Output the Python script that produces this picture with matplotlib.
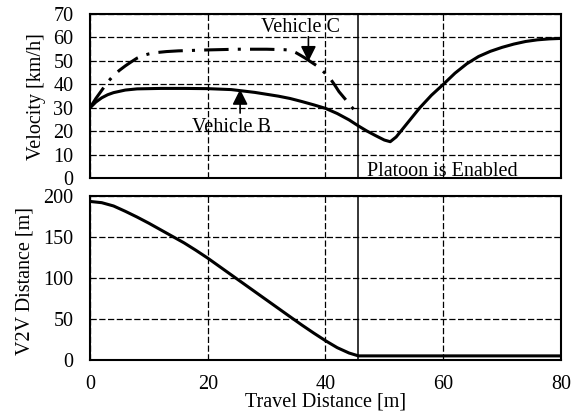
import numpy as np
import matplotlib
matplotlib.use('Agg')
import matplotlib.pyplot as plt

matplotlib.rcParams['font.family'] = 'Liberation Serif'
matplotlib.rcParams['font.size'] = 14.5

# vehicle B velocity [km/h] vs travel distance [m]
x_B = [0, 1, 2, 3, 4, 6, 8, 12, 16, 20, 24, 28, 32, 34, 36, 38, 40, 42, 44, 45.6,
       47, 48.5, 50, 51, 52, 54, 56, 58, 60, 62, 64, 66, 68, 70, 72, 74, 76, 78, 80]
v_B = [30, 32.5, 34.3, 35.6, 36.5, 37.6, 38.1, 38.3, 38.3, 38.2, 37.8, 36.6, 35.0, 34.0, 32.7, 31.3, 29.8, 27.6, 24.9, 22.3,
       20.2, 18.2, 16.3, 15.6, 17.6, 23.8, 30.0, 35.4, 40.0, 44.8, 48.8, 51.9, 54.1, 55.8, 57.2, 58.3, 59.0, 59.4, 59.6]

# vehicle C velocity [km/h]
x_C = [0, 1, 2, 3, 4, 5, 6, 7, 8, 9, 10, 11, 13, 15, 20, 25, 30, 33, 34, 35, 35.7,
       36.5, 37.1, 38.5, 39.5, 40.6, 41.5, 42.3, 43.4, 44.4, 45.3]
v_C = [30, 34, 37.5, 41, 43.8, 46, 47.9, 49.6, 51.2, 52.3, 53, 53.5, 54, 54.3, 54.7, 55, 55, 54.8, 54.6, 53.5, 52.5,
       51.3, 50.3, 48, 45.8, 43.2, 40, 36.9, 33.6, 30.5, 27.9]

# V2V distance [m]
x_d = [0, 2, 4, 6, 8, 10, 12, 14, 16, 18, 20, 22, 24, 26, 28, 30, 32, 34, 36, 38, 40, 42, 44, 45.6, 80]
d_v2v = [193, 191.5, 187.5, 181, 174, 166.5, 158.5, 150.5, 142.5, 133.5, 124, 113.8, 103.6, 93.4, 83.2, 73,
         62.8, 52.6, 42.5, 32.8, 23.5, 15, 8.5, 5, 5]

x_platoon = 45.6

fig = plt.figure(figsize=(5.79, 4.17), dpi=100, facecolor='w')
ax1 = fig.add_axes([0.1554, 0.5724, 0.8135, 0.394])
ax2 = fig.add_axes([0.1554, 0.1367, 0.8135, 0.394])

grid_kw = dict(color='k', linestyle=(0, (5, 2)), linewidth=0.9)

for ax in (ax1, ax2):
    ax.set_xlim(0, 80)
    ax.set_xticks(np.arange(0, 81, 20))
    ax.grid(True, **grid_kw)
    ax.tick_params(length=0)
    ax.tick_params(axis='y', pad=12)
    ax.tick_params(axis='x', pad=10.5)
    for s in ax.spines.values():
        s.set_linewidth(1.5)
        s.set_zorder(3)
    ax.axvline(x_platoon, color='k', lw=1.1)

# velocity panel
ax1.set_ylim(0, 70)
ax1.set_yticks(np.arange(0, 71, 10))
ax1.tick_params(axis='x', labelbottom=False)
ax1.plot(x_C, v_C, color='k', lw=2.2, linestyle=(0, (8, 3, 1, 3)))
ax1.plot(x_B, v_B, color='k', lw=2.2)
ax1.set_ylabel('Velocity [km/h]', va='center')
ax1.yaxis.set_label_coords(-0.114, 0.5)

arrow_kw = dict(arrowstyle='-|>', color='k', lw=1.2, mutation_scale=23, shrinkA=0, shrinkB=0)
ax1.text(35.7, 62.5, 'Vehicle C', ha='center', va='baseline')
ax1.annotate('', xy=(37.1, 49.8), xytext=(37.1, 60.3), arrowprops=arrow_kw)
ax1.text(24.1, 19.9, 'Vehicle B', ha='center', va='baseline')
ax1.annotate('', xy=(25.5, 37.9), xytext=(25.5, 27.8), arrowprops=arrow_kw)
ax1.text(47.0, 1.0, 'Platoon is Enabled', ha='left', va='baseline')

# V2V distance panel
ax2.set_ylim(0, 200)
ax2.set_yticks(np.arange(0, 201, 50))
ax2.plot(x_d, d_v2v, color='k', lw=2.2)
ax2.set_ylabel('V2V Distance [m]', va='center')
ax2.yaxis.set_label_coords(-0.137, 0.48)
ax2.set_xlabel('Travel Distance [m]')
ax2.xaxis.set_label_coords(0.5, -0.195)

fig.savefig('out.png', dpi=100)
